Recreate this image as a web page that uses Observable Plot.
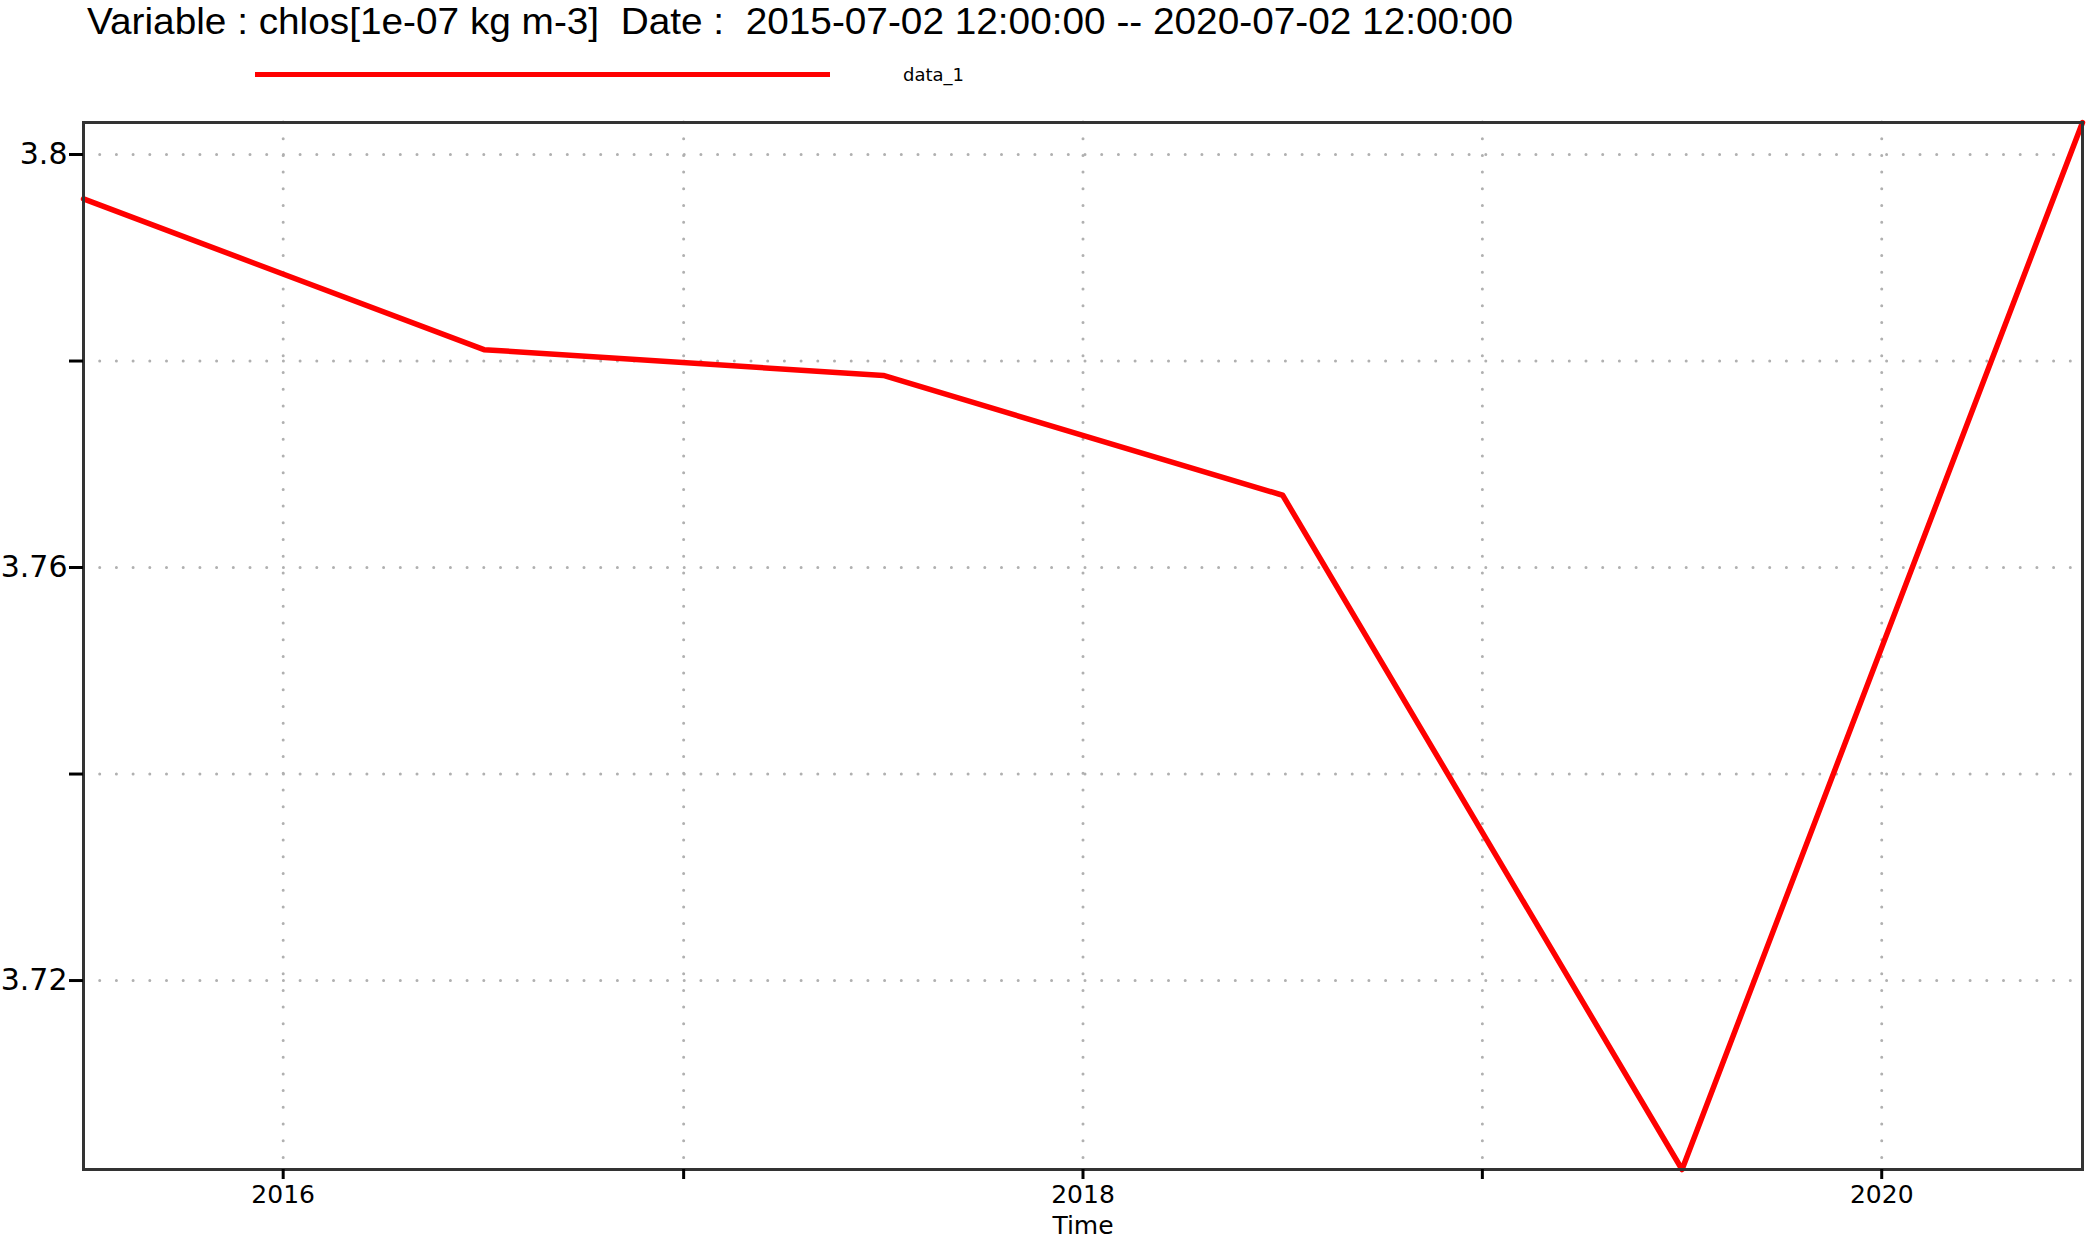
<!DOCTYPE html>
<html>
<head>
<meta charset="utf-8">
<script src="https://cdn.jsdelivr.net/npm/d3@7"></script>
<script src="https://cdn.jsdelivr.net/npm/@observablehq/plot@0.6"></script>
<style>
  html, body { margin: 0; padding: 0; background: #fff; }
  #wrap { width: 2086px; height: 1238px; position: relative; overflow: hidden; }
  #header { position: relative; width: 2086px; height: 100px; }
  #title { position: absolute; left: 0; top: 0; }
  #titleText { white-space: pre; }
  #legline { position: absolute; left: 255px; top: 72px; width: 575px; height: 5px; background: #ff0000; }
  #leglabel { position: absolute; left: 903px; top: 64px; font-family: "DejaVu Sans", sans-serif; font-size: 18px; color: #000; }
</style>
</head>
<body>
<div id="wrap">
  <div id="header">
    <svg id="title" width="2086" height="50">
      <text id="titleText" x="87" y="34" xml:space="preserve" font-family="Liberation Sans, Arial, sans-serif" font-size="36" fill="#000" textLength="1426" lengthAdjust="spacingAndGlyphs"></text>
    </svg>
    <div id="legline"></div>
    <div id="leglabel"></div>
  </div>
  <div id="chart"></div>
</div>
<script>
// ---- data ----
const titleLabel = "Variable : chlos[1e-07 kg m-3]  Date :  2015-07-02 12:00:00 -- 2020-07-02 12:00:00";
const seriesName = "data_1";
const dates = ["2015-07-02T12:00:00Z", "2016-07-02T12:00:00Z", "2017-07-02T12:00:00Z", "2018-07-02T12:00:00Z", "2019-07-02T12:00:00Z", "2020-07-02T12:00:00Z"];
const values = [3.7957, 3.7811, 3.7786, 3.7670, 3.7017, 3.8031];
const yTicks = [3.72, 3.74, 3.76, 3.78, 3.80];
const yLabeled = [3.72, 3.76, 3.80];
const xTickYears = [2016, 2017, 2018, 2019, 2020];
const xLabeledYears = [2016, 2018, 2020];
const xDomain = ["2015-07-02T12:00:00Z", "2020-07-02T12:00:00Z"];
const xLabel = "Time";

document.getElementById("titleText").textContent = titleLabel;
document.getElementById("leglabel").textContent = seriesName;

const data = dates.map((d, i) => ({date: new Date(d), value: values[i]}));
const xTicks = xTickYears.map(y => new Date(Date.UTC(y, 0, 1)));

const chart = Plot.plot({
  width: 2086,
  height: 1138,
  marginTop: 22,
  marginBottom: 69,
  marginLeft: 83,
  marginRight: 4,
  style: {background: "#fff", fontFamily: "DejaVu Sans, sans-serif"},
  x: {type: "utc", domain: xDomain.map(d => new Date(d))},
  y: {domain: d3.extent(values)},
  marks: [
    Plot.gridY(yTicks, {stroke: "#b0b0b0", strokeOpacity: 1, strokeWidth: 3, strokeDasharray: "0,16.7", strokeLinecap: "round"}),
    Plot.gridX(xTicks, {stroke: "#b0b0b0", strokeOpacity: 1, strokeWidth: 3, strokeDasharray: "0,16.7", strokeLinecap: "round"}),
    Plot.line(data, {x: "date", y: "value", stroke: "#ff0000", strokeWidth: 5.5}),
    Plot.frame({stroke: "#333", strokeWidth: 3}),
    Plot.axisY(yTicks, {
      tickSize: 14, tickPadding: 2, strokeWidth: 3, stroke: "#000", fontSize: 30, fill: "#000",
      tickFormat: d => yLabeled.some(v => Math.abs(v - d) < 1e-9) ? d3.format("")(+d.toFixed(2)) : "",
      label: null
    }),
    Plot.axisX(xTicks, {
      tickSize: 10, tickPadding: 6, strokeWidth: 3, stroke: "#000", fontSize: 25, fill: "#000",
      tickFormat: d => xLabeledYears.includes(d.getUTCFullYear()) ? String(d.getUTCFullYear()) : "",
      label: xLabel, labelAnchor: "center", labelArrow: "none", labelOffset: 64
    })
  ]
});
document.getElementById("chart").appendChild(chart);
</script>
</body>
</html>
